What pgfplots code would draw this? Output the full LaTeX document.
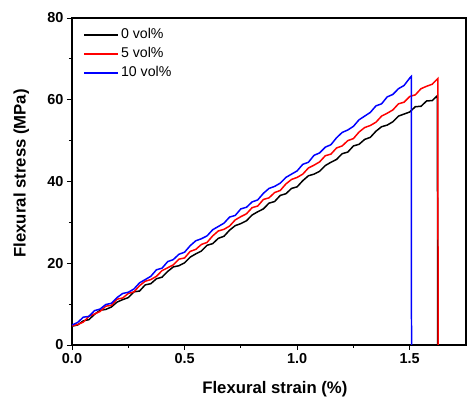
\documentclass[border=0pt]{standalone}
\usepackage{fontspec}
\setmainfont{Liberation Sans}
\usepackage{pgfplots}
\pgfplotsset{compat=1.18}
\begin{document}
\begin{tikzpicture}
\begin{axis}[
  name=ax,
  scale only axis,
  width=394bp, height=327bp,
  xmin=0, xmax=1.75, ymin=0, ymax=80,
  xtick={0,0.5,1.0,1.5}, xticklabels={0.0,0.5,1.0,1.5},
  ytick={0,20,40,60,80},
  minor x tick num=1, minor y tick num=1,
  tick align=outside, tick pos=left,
  major tick length=5bp, minor tick length=3bp,
  every tick/.style={black, line width=0.9pt},
  axis line style={line width=1.1pt},
  ticklabel style={font=\fontsize{14.5}{17}\selectfont\bfseries},
  /pgf/number format/assume math mode=true,
  xlabel={Flexural strain (\%)}, ylabel={Flexural stress (MPa)},
  label style={font=\fontsize{16.8}{19}\selectfont\bfseries},
  xlabel style={at={(axis description cs:0.515,-0.135)}, anchor=center},
  ylabel style={at={(axis description cs:-0.129,0.525)}, anchor=center},
  legend style={draw=none, fill=none, at={(0.02,0.985)}, anchor=north west,
    font=\fontsize{14.2}{16}\selectfont,
    nodes={minimum height=19bp, inner ysep=0pt}},
  legend cell align=left,
  legend image code/.code={\draw[#1, line width=2pt] (0bp,0bp) -- (34bp,0bp);},
]
\addplot[color=black, line width=1.5pt] coordinates {
(0.000,4.6)(0.025,4.9)(0.050,5.9)(0.075,6.2)(0.100,7.5)(0.125,8.5)(0.150,8.7)(0.175,9.3)(0.200,10.5)(0.225,11.1)
(0.250,11.6)(0.275,13.0)(0.300,13.2)(0.325,14.7)(0.350,15.0)(0.375,16.2)(0.400,16.6)(0.425,18.0)(0.450,19.1)(0.475,19.4)
(0.500,20.1)(0.525,21.5)(0.550,22.3)(0.575,23.0)(0.600,24.4)(0.625,24.8)(0.650,26.1)(0.675,26.6)(0.700,28.1)(0.725,29.2)
(0.750,29.7)(0.775,30.4)(0.800,31.8)(0.825,32.6)(0.850,33.3)(0.875,34.7)(0.900,35.1)(0.925,36.6)(0.950,37.0)(0.975,38.3)
(1.000,38.7)(1.025,40.2)(1.050,41.4)(1.075,41.8)(1.100,42.5)(1.125,43.9)(1.150,44.7)(1.175,45.4)(1.200,46.8)(1.225,47.2)
(1.250,48.7)(1.275,49.1)(1.300,50.3)(1.325,50.8)(1.350,52.3)(1.375,53.4)(1.400,53.8)(1.425,54.6)(1.450,56.0)(1.475,56.5)
(1.500,57.0)(1.525,58.3)(1.550,58.4)(1.575,59.7)(1.600,59.8)(1.623,61.0)(1.624,0)
};
\addlegendentry{0 vol\%}
\addplot[color=red, line width=1.5pt] coordinates {
(0.000,4.7)(0.025,5.0)(0.050,5.6)(0.075,7.0)(0.100,7.6)(0.125,8.2)(0.150,9.5)(0.175,9.7)(0.200,11.2)(0.225,11.5)
(0.250,12.6)(0.275,13.0)(0.300,14.5)(0.325,15.6)(0.350,16.0)(0.375,16.8)(0.400,18.2)(0.425,18.9)(0.450,19.6)(0.475,21.0)
(0.500,21.3)(0.525,22.9)(0.550,23.4)(0.575,24.6)(0.600,25.1)(0.625,26.7)(0.650,27.9)(0.675,28.3)(0.700,29.1)(0.725,30.6)
(0.750,31.4)(0.775,32.1)(0.800,33.6)(0.825,34.0)(0.850,35.6)(0.875,36.0)(0.900,37.3)(0.925,37.8)(0.950,39.4)(0.975,40.5)
(1.000,41.0)(1.025,41.8)(1.050,43.3)(1.075,44.0)(1.100,44.8)(1.125,46.3)(1.150,46.7)(1.175,48.2)(1.200,48.7)(1.225,50.0)
(1.250,50.5)(1.275,52.1)(1.300,53.2)(1.325,53.7)(1.350,54.5)(1.375,56.0)(1.400,56.7)(1.425,57.5)(1.450,59.0)(1.475,59.4)
(1.500,60.8)(1.525,61.2)(1.550,62.7)(1.575,63.3)(1.600,63.8)(1.625,65.2)(1.626,0)
};
\addlegendentry{5 vol\%}
\addplot[color=blue, line width=1.5pt] coordinates {
(0.000,4.9)(0.025,5.5)(0.050,6.8)(0.075,7.0)(0.100,8.4)(0.125,8.8)(0.150,9.9)(0.175,10.2)(0.200,11.6)(0.225,12.6)
(0.250,12.9)(0.275,13.7)(0.300,15.2)(0.325,16.0)(0.350,16.8)(0.375,18.4)(0.400,18.8)(0.425,20.4)(0.450,20.9)(0.475,22.2)
(0.500,22.7)(0.525,24.3)(0.550,25.5)(0.575,26.0)(0.600,26.7)(0.625,28.2)(0.650,29.0)(0.675,29.8)(0.700,31.3)(0.725,31.7)
(0.750,33.3)(0.775,33.7)(0.800,35.0)(0.825,35.5)(0.850,37.1)(0.875,38.3)(0.900,38.8)(0.925,39.6)(0.950,41.0)(0.975,41.8)
(1.000,42.6)(1.025,44.2)(1.050,44.7)(1.075,46.4)(1.100,47.0)(1.125,48.4)(1.150,49.0)(1.175,50.7)(1.200,52.0)(1.225,52.6)
(1.250,53.5)(1.275,55.1)(1.300,56.0)(1.325,56.9)(1.350,58.5)(1.375,59.0)(1.400,60.7)(1.425,61.3)(1.450,62.7)(1.475,63.5)
(1.500,65.3)(1.507,65.7)(1.508,0)
};
\addlegendentry{10 vol\%}
\end{axis}
\path (ax.south west) ++(-72bp,-54bp) coordinate (bl);
\path (ax.north east) ++(1bp,18bp) coordinate (tr);
\path (bl) rectangle (tr);
\end{tikzpicture}
\end{document}
